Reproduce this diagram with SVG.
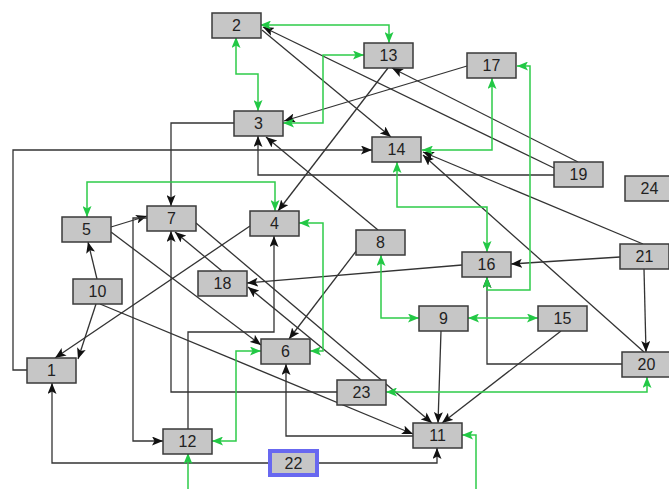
<svg xmlns="http://www.w3.org/2000/svg" width="669" height="489" viewBox="0 0 669 489">
<style>
.n rect{fill:#c6c6c6;stroke:#3a3a3a;stroke-width:1.5}
.n text{font-family:"Liberation Sans",Arial,sans-serif;font-size:16px;fill:#222;text-anchor:middle;dominant-baseline:central}
.k{fill:none;stroke:#333;stroke-width:1.3;marker-end:url(#ak)}
.g{fill:none;stroke:#2ecc4a;stroke-width:1.5;marker-start:url(#ag);marker-end:url(#ag)}
#n22 rect{stroke:#6868f0;stroke-width:4}
</style>
<defs>
<marker id="ak" markerUnits="userSpaceOnUse" viewBox="0 0 11 9" markerWidth="11" markerHeight="9" refX="11" refY="4.5" orient="auto"><path d="M0,0 L11,4.5 L0,9 L2.5,4.5 z" fill="#111"/></marker>
<marker id="ag" markerUnits="userSpaceOnUse" viewBox="0 0 11 9" markerWidth="11" markerHeight="9" refX="11" refY="4.5" orient="auto-start-reverse"><path d="M0,0 L11,4.5 L0,9 L2.5,4.5 z" fill="#22c845"/></marker>
</defs>
<rect width="669" height="489" fill="#fff"/>
<g id="edges">
<path class="k" d="M262,30 L391,137"/>
<path class="k" d="M554,168 L263,27"/>
<path class="k" d="M578,162 L392,68"/>
<path class="k" d="M467,66 L284,121"/>
<path class="k" d="M388,68 L278,211"/>
<path class="k" d="M234,123 L171,123 L171,206"/>
<path class="k" d="M27,370 L13,370 L13,150 L372,150"/>
<path class="k" d="M554,175 L258,175 L258,136"/>
<path class="k" d="M378,230 L266,137"/>
<path class="k" d="M643,244 L423,152"/>
<path class="k" d="M644,352 L423,155"/>
<path class="k" d="M620,257 L511,264"/>
<path class="k" d="M644,269 L646,352"/>
<path class="k" d="M622,364 L487,364 L487,277"/>
<path class="k" d="M462,265 L247,283"/>
<path class="k" d="M357,250 L289,339"/>
<path class="k" d="M250,226 L55,358"/>
<path class="k" d="M96,304 L78,359"/>
<path class="k" d="M97,279 L88,242"/>
<path class="k" d="M100,304 L413,434"/>
<path class="k" d="M111,227 L147,216"/>
<path class="k" d="M111,232 L261,345"/>
<path class="k" d="M196,223 L432,423"/>
<path class="k" d="M222,271 L175,232"/>
<path class="k" d="M361,380 L248,287"/>
<path class="k" d="M147,218 L133,218 L133,441 L163,441"/>
<path class="k" d="M337,392 L171,392 L171,231"/>
<path class="k" d="M188,429 L188,332 L274,332 L274,236"/>
<path class="k" d="M413,436 L286,436 L286,364"/>
<path class="k" d="M268,463 L52,463 L52,383"/>
<path class="k" d="M319,463 L437,463 L437,448"/>
<path class="k" d="M441,331 L438,423"/>
<path class="k" d="M561,331 L442,423"/>
<path class="g" d="M260,25 L389,25 L389,43"/>
<path class="g" d="M236,37 L236,74 L258,74 L258,111"/>
<path class="g" d="M283,123 L323,123 L323,55 L364,55"/>
<path class="g" d="M492,78 L492,150 L422,150"/>
<path class="g" d="M517,66 L530,66 L530,290 L487,290 L487,277"/>
<path class="g" d="M397,162 L397,207 L487,207 L487,252"/>
<path class="g" d="M87,217 L87,182 L275,182 L275,211"/>
<path class="g" d="M299,223 L323,223 L323,351 L310,351"/>
<path class="g" d="M381,255 L381,318 L419,318"/>
<path class="g" d="M468,318 L538,318"/>
<path class="g" d="M212,441 L236,441 L236,351 L261,351"/>
<path class="g" d="M386,392 L647,392 L647,377"/>
<path class="g" d="M188,453 L188,496 L476,496 L476,435 L462,435"/>
</g>
<g id="n1" class="n"><rect x="27" y="358" width="49" height="25"/><text x="51.5" y="370.5">1</text></g>
<g id="n2" class="n"><rect x="212" y="13" width="49" height="25"/><text x="236.5" y="25.5">2</text></g>
<g id="n3" class="n"><rect x="234" y="111" width="49" height="25"/><text x="258.5" y="123.5">3</text></g>
<g id="n4" class="n"><rect x="250" y="211" width="49" height="25"/><text x="274.5" y="223.5">4</text></g>
<g id="n5" class="n"><rect x="62" y="217" width="49" height="25"/><text x="86.5" y="229.5">5</text></g>
<g id="n6" class="n"><rect x="261" y="339" width="49" height="25"/><text x="285.5" y="351.5">6</text></g>
<g id="n7" class="n"><rect x="147" y="206" width="49" height="25"/><text x="171.5" y="218.5">7</text></g>
<g id="n8" class="n"><rect x="356" y="230" width="49" height="25"/><text x="380.5" y="242.5">8</text></g>
<g id="n9" class="n"><rect x="419" y="306" width="49" height="25"/><text x="443.5" y="318.5">9</text></g>
<g id="n10" class="n"><rect x="73" y="279" width="49" height="25"/><text x="97.5" y="291.5">10</text></g>
<g id="n11" class="n"><rect x="413" y="423" width="49" height="25"/><text x="437.5" y="435.5">11</text></g>
<g id="n12" class="n"><rect x="163" y="429" width="49" height="25"/><text x="187.5" y="441.5">12</text></g>
<g id="n13" class="n"><rect x="364" y="43" width="49" height="25"/><text x="388.5" y="55.5">13</text></g>
<g id="n14" class="n"><rect x="372" y="137" width="49" height="25"/><text x="396.5" y="149.5">14</text></g>
<g id="n15" class="n"><rect x="538" y="306" width="49" height="25"/><text x="562.5" y="318.5">15</text></g>
<g id="n16" class="n"><rect x="462" y="252" width="49" height="25"/><text x="486.5" y="264.5">16</text></g>
<g id="n17" class="n"><rect x="467" y="53" width="49" height="25"/><text x="491.5" y="65.5">17</text></g>
<g id="n18" class="n"><rect x="198" y="271" width="49" height="25"/><text x="222.5" y="283.5">18</text></g>
<g id="n19" class="n"><rect x="554" y="162" width="49" height="25"/><text x="578.5" y="174.5">19</text></g>
<g id="n20" class="n"><rect x="622" y="352" width="49" height="25"/><text x="646.5" y="364.5">20</text></g>
<g id="n21" class="n"><rect x="620" y="244" width="49" height="25"/><text x="644.5" y="256.5">21</text></g>
<g id="n22" class="n"><rect x="270" y="451" width="47" height="24"/><text x="293.5" y="463">22</text></g>
<g id="n23" class="n"><rect x="337" y="380" width="49" height="25"/><text x="361.5" y="392.5">23</text></g>
<g id="n24" class="n"><rect x="625" y="176" width="49" height="25"/><text x="649.5" y="188.5">24</text></g>
</svg>
